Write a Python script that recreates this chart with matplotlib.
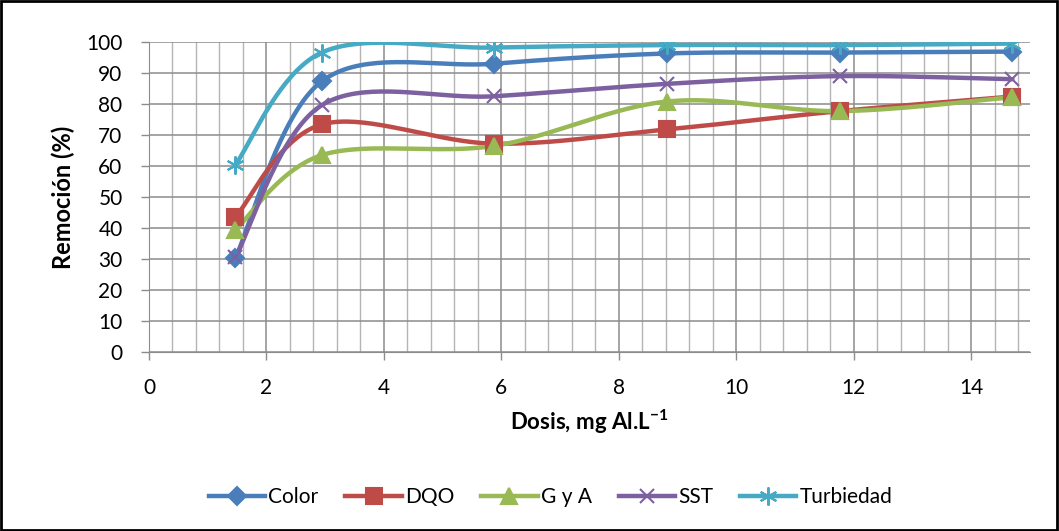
import numpy as np
import matplotlib.pyplot as plt
from matplotlib.ticker import MultipleLocator

plt.rcParams['font.family'] = ['Lato', 'DejaVu Sans']
plt.rcParams['mathtext.fontset'] = 'custom'
plt.rcParams['mathtext.bf'] = 'Lato:bold'

# datos
dosis = [1.47, 2.94, 5.88, 8.82, 11.76, 14.7]
color = [30.3, 87.3, 93.0, 96.3, 96.6, 96.9]
dqo = [43.5, 73.4, 67.2, 71.8, 77.7, 82.4]
gya = [39.4, 63.5, 66.5, 80.8, 77.7, 82.2]
sst = [30.5, 79.6, 82.5, 86.5, 89.0, 88.0]
turbiedad = [60.4, 96.6, 98.2, 99.0, 99.0, 99.5]

series = [
    ('Color', color, '#4A7EBB', 'D', 9),
    ('DQO', dqo, '#BE4B48', 's', 11),
    ('G y A', gya, '#98B954', '^', 11),
    ('SST', sst, '#7D60A0', 'x', 10),
    ('Turbiedad', turbiedad, '#46AAC5', (6, 2, 0), 13),
]


def suavizar(x, y, n=40):
    # curva tipo Excel (bezier con puntos de control catmull-rom)
    x = np.asarray(x, float)
    y = np.asarray(y, float)
    xs, ys = [], []
    for i in range(len(x) - 1):
        p0 = np.array([x[max(i - 1, 0)], y[max(i - 1, 0)]])
        p1 = np.array([x[i], y[i]])
        p2 = np.array([x[i + 1], y[i + 1]])
        p3 = np.array([x[min(i + 2, len(x) - 1)], y[min(i + 2, len(x) - 1)]])
        c1 = p1 + (p2 - p0) / 6
        c2 = p2 - (p3 - p1) / 6
        t = np.linspace(0, 1, n)[:, None]
        b = (1 - t) ** 3 * p1 + 3 * (1 - t) ** 2 * t * c1 + 3 * (1 - t) * t ** 2 * c2 + t ** 3 * p2
        xs.extend(b[:, 0])
        ys.extend(b[:, 1])
    return xs, ys


fig = plt.figure(figsize=(10.59, 5.31), dpi=100)
ax = fig.add_axes([149 / 1059, 1 - 352 / 531, (1030 - 149) / 1059, (352 - 42) / 531])

for nombre, vals, c, m, ms in series:
    sx, sy = suavizar(dosis, vals)
    ax.plot(sx, sy, color=c, linewidth=3.2, solid_capstyle='round', zorder=3)
    ax.plot(dosis, vals, linestyle='none', marker=m, markersize=ms, color=c,
            markeredgecolor=c, markeredgewidth=1.5, zorder=4)
    ax.plot([], [], color=c, linewidth=3.2, marker=m, markersize=ms,
            markeredgecolor=c, markeredgewidth=1.5, label=nombre)

ax.set_xlim(0, 15)
ax.set_ylim(0, 100)
ax.xaxis.set_major_locator(MultipleLocator(2))
ax.xaxis.set_minor_locator(MultipleLocator(0.4))
ax.yaxis.set_major_locator(MultipleLocator(10))
ax.grid(True, which='major', color='#8c8c8c', linewidth=1.1, zorder=0)
ax.grid(True, which='minor', axis='x', color='#b4b4b4', linewidth=1.0, zorder=0)
ax.set_axisbelow(True)
for s in ['top', 'right']:
    ax.spines[s].set_visible(False)
ax.spines['left'].set_color('#8c8c8c')
ax.spines['bottom'].set_color('#8c8c8c')
ax.tick_params(axis='both', which='major', labelsize=15, color='#8c8c8c', length=6, width=1)
ax.tick_params(axis='y', pad=13)
ax.tick_params(axis='x', pad=13)
ax.tick_params(axis='x', which='minor', length=0)

ax.set_xlabel('Dosis, mg Al.L$^{\\mathbf{-1}}$', fontsize=16, fontweight='bold', labelpad=7)
ax.set_ylabel('Remoción (%)', fontsize=17, fontweight='bold', labelpad=8)

fig.legend(loc='center', bbox_to_anchor=(0.52, 1 - 497 / 531), ncol=5, frameon=False,
           fontsize=15, handlelength=2.7, columnspacing=1.3, handletextpad=0.15)

# borde del grafico
borde = plt.Rectangle((0.001, 0.002), 0.997, 0.996, transform=fig.transFigure,
                      fill=False, edgecolor='black', linewidth=2)
fig.patches.append(borde)

fig.savefig('out.png', dpi=100)
